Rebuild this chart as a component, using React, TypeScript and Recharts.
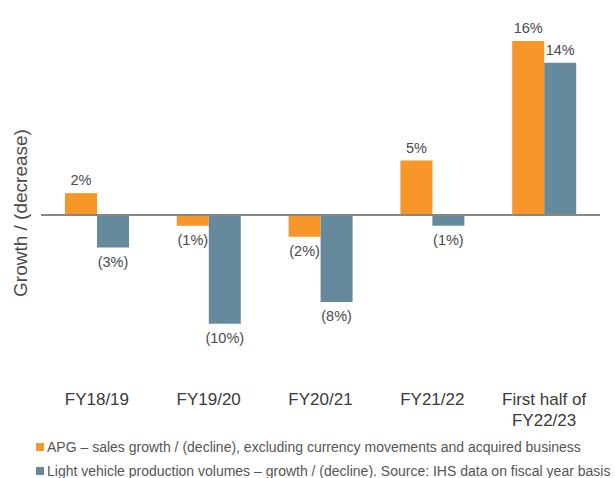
import React from 'react'
import { BarChart, Bar, XAxis, YAxis, ReferenceLine, LabelList, Label } from 'recharts'

const categories = ['FY18/19', 'FY19/20', 'FY20/21', 'FY21/22', 'First half of\nFY22/23']
const apgGrowth = [2, -1, -2, 5, 16]
const lvGrowth = [-3, -10, -8, -1, 14]
const seriesNames = [
  'APG – sales growth / (decline), excluding currency movements and acquired business',
  'Light vehicle production volumes – growth / (decline). Source: IHS data on fiscal year basis',
]
const colors = ['#F7972A', '#668A9B']

const data = categories.map((name, i) => ({
  name,
  apg: apgGrowth[i],
  lv: lvGrowth[i],
}))

const font = '"Liberation Sans", Arial, sans-serif'

const fmt = (v: number) => (v < 0 ? `(${Math.abs(v)}%)` : `${v}%`)

const ValueLabel = (props: any) => {
  const { x, y, width, height, value } = props
  const top = Math.min(y, y + height)
  const bottom = Math.max(y, y + height)
  const cx = x + width / 2
  const ty = value < 0 ? bottom + 19 : top - 8
  return (
    <text x={cx} y={ty} textAnchor="middle" fontSize={14.5} fill="#4a4a4a" fontFamily={font}>
      {fmt(value)}
    </text>
  )
}

const CategoryTick = (props: any) => {
  const { x, y, payload } = props
  const lines = String(payload.value).split('\n')
  return (
    <text x={x} y={y} textAnchor="middle" fontSize={17} fill="#3a3a3a" fontFamily={font}>
      {lines.map((line, i) => (
        <tspan key={i} x={x} dy={i === 0 ? 19 : 21}>
          {line}
        </tspan>
      ))}
    </text>
  )
}

export default function App() {
  return (
    <div style={{ position: 'absolute', left: 0, top: 0, width: 615, height: 478, background: '#fff' }}>
      <BarChart
        width={615}
        height={430}
        data={data}
        margin={{ top: 30, right: 15, left: 0, bottom: 2 }}
        barGap={0}
        barSize={32}
      >
        <XAxis
          dataKey="name"
          axisLine={false}
          tickLine={false}
          height={50}
          interval={0}
          tick={<CategoryTick />}
        />
        <YAxis domain={[-15, 17]} width={41} axisLine={false} tickLine={false} tick={false}>
          <Label
            content={() => (
              <text
                x={20}
                y={213}
                transform="rotate(-90 20 213)"
                textAnchor="middle"
                dominantBaseline="central"
                fontSize={19}
                fill="#4a4a4a"
                fontFamily={font}
              >
                Growth / (decrease)
              </text>
            )}
          />
        </YAxis>
        <Bar dataKey="apg" fill={colors[0]} isAnimationActive={false}>
          <LabelList dataKey="apg" content={<ValueLabel />} />
        </Bar>
        <Bar dataKey="lv" fill={colors[1]} isAnimationActive={false}>
          <LabelList dataKey="lv" content={<ValueLabel />} />
        </Bar>
        <ReferenceLine y={0} stroke="#888" strokeWidth={2} />
      </BarChart>
      <div style={{ position: 'absolute', left: 36, top: 435, fontFamily: font, fontSize: 14, color: '#555' }}>
        {seriesNames.map((n, i) => (
          <div key={i} style={{ display: 'flex', alignItems: 'center', height: 24, whiteSpace: 'nowrap' }}>
            <span style={{ display: 'inline-block', width: 8, height: 8, background: colors[i], marginRight: 3, flexShrink: 0 }} />
            <span>{n}</span>
          </div>
        ))}
      </div>
    </div>
  )
}
